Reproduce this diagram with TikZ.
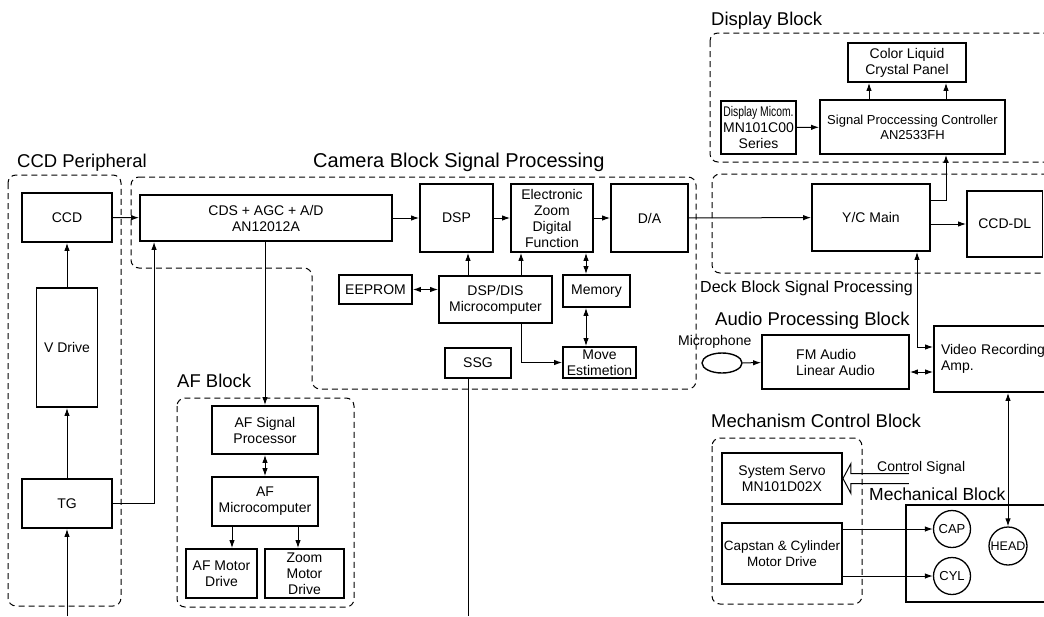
\documentclass[tikz,border=0pt]{standalone}
\usepackage{fontspec}
\setmainfont{Liberation Sans}
\usetikzlibrary{arrows.meta,shapes.geometric}

\begin{document}
\begin{tikzpicture}[x=1pt,y=-1pt,
  box/.style={draw,line width=1.9pt,inner sep=1pt,align=center,font=\fontsize{14}{16}\selectfont},
  grp/.style={draw,line width=1pt,dash pattern=on 6pt off 4pt,rounded corners=8pt},
  lbl/.style={anchor=base west,inner sep=0pt,font=\fontsize{18.5}{20}\selectfont},
  rotor/.style={draw,circle,line width=1.3pt,inner sep=0pt,minimum size=37pt,font=\fontsize{13}{14}\selectfont},
  wire/.style={line width=1pt},
  >={Latex[length=8pt,width=5.5pt]}]

\useasboundingbox (0,0) rectangle (1044,616);
\clip (0,0) rectangle (1044,616);

% CCD Peripheral
\draw[grp] (8,175) rectangle (121,606);
\node[lbl] (tccd) at (17,167) {CCD Peripheral};
\node[box,minimum width=90pt,minimum height=49pt] (ccd) at (67,217.5) {CCD};
\node[box,minimum width=61pt,minimum height=119pt] (vd) at (67,347.5) {V Drive};
\node[box,minimum width=90pt,minimum height=49pt] (tg) at (67,503.5) {TG};
\coordinate (tgin) at (67,616);

\draw[wire,->] (tgin) -- (tg);
\draw[wire,->] (tg) -- (vd);
\draw[wire,->] (vd) -- (ccd);

% Camera Block Signal Processing
\draw[grp] (131,177) -- (696,177) -- (696,389) -- (312,389) -- (312,268) -- (131,268) -- cycle;
\node[lbl,font=\fontsize{20}{22}\selectfont] (tcam) at (313,167) {Camera Block Signal Processing};
\node[box,minimum width=252pt,minimum height=46pt] (cds) at (266,218) {CDS + AGC + A/D\\AN12012A};
\node[box,minimum width=73pt,minimum height=68pt] (dsp) at (456.5,218) {DSP};
\node[box,minimum width=82pt,minimum height=68pt] (ez) at (552,218) {Electronic\\Zoom\\Digital\\Function};
\node[box,minimum width=77pt,minimum height=68pt] (da) at (649.5,218) {D/A};
\node[box,minimum width=73pt,minimum height=29pt] (eeprom) at (375.5,289.5) {EEPROM};
\node[box,minimum width=113pt,minimum height=47pt] (dis) at (495.5,299.5) {DSP/DIS\\Microcomputer};
\node[box,minimum width=67pt,minimum height=32pt] (mem) at (596.5,291) {Memory};
\node[box,minimum width=73pt,minimum height=31pt] (move) at (599.5,362.5) {Move\\Estimetion};
\node[box,minimum width=66pt,minimum height=30pt] (ssg) at (478,363) {SSG};
\coordinate (ssgout) at (468,616);

\draw[wire,->] (ccd) -- (cds);
\draw[wire,->] (tg.east) -| ([xshift=15pt]cds.south west);
\draw[wire,->] (cds) -- (dsp);
\draw[wire,->] (dsp) -- (ez);
\draw[wire,->] (ez) -- (da);
\draw[wire,<->] (eeprom.east) -- (eeprom.east -| dis.west);
\draw[wire,->] ([xshift=-27.5pt]dis.north) -- ([xshift=-27.5pt]dis.north |- dsp.south);
\draw[wire,->] ([xshift=25.5pt]dis.north) -- ([xshift=25.5pt]dis.north |- ez.south);
\draw[wire,<->] ([xshift=34pt]ez.south) -- ([xshift=34pt]ez.south |- mem.north);
\draw[wire,<->] ([xshift=34pt]ez.south |- mem.south) -- ([xshift=34pt]ez.south |- move.north);
\draw[wire,->] ([xshift=25.5pt]dis.south) |- (move.west);
\draw[wire] (ssg.south -| ssgout) -- (ssgout);

% AF Block
\draw[grp] (177,398) rectangle (354,607);
\node[lbl] (taf) at (177,387) {AF Block};
\node[box,minimum width=106pt,minimum height=48pt] (afsp) at (265,430) {AF Signal\\Processor};
\node[box,minimum width=106pt,minimum height=49pt] (afmc) at (265,501.5) {AF\\Microcomputer};
\node[box,minimum width=71pt,minimum height=49pt] (afmd) at (221.5,573.5) {AF Motor\\Drive};
\node[box,minimum width=79pt,minimum height=49pt] (zmd) at (304.5,573.5) {Zoom\\Motor\\Drive};

\draw[wire,->] (cds.south -| afsp.north) -- (afsp.north);
\draw[wire,<->] (afsp) -- (afmc);
\draw[wire,->] ([xshift=-33pt]afmc.south) -- ([xshift=-33pt]afmc.south |- afmd.north);
\draw[wire,->] ([xshift=33pt]afmc.south) -- ([xshift=33pt]afmc.south |- zmd.north);

% Display Block
\draw[grp] (710,33) rectangle (1070,162);
\node[lbl] (tdisp) at (711,25) {Display Block};
\node[box,minimum width=118pt,minimum height=39pt] (clcp) at (907,62.5) {Color Liquid\\Crystal Panel};
\node[box,minimum width=75pt,minimum height=53pt] (dmic) at (758.5,127.5) {\scalebox{0.74}[1]{Display Micom.}\\MN101C00\\Series};
\node[box,minimum width=185pt,minimum height=54pt,font=\fontsize{13}{15}\selectfont] (spc) at (912.5,127) {Signal Proccessing Controller\\AN2533FH};

\draw[wire,->] (dmic) -- (spc);
\draw[wire,->] ([xshift=-43.5pt]spc.north) -- ([xshift=-43.5pt]spc.north |- clcp.south);
\draw[wire,->] ([xshift=33.5pt]spc.north) -- ([xshift=33.5pt]spc.north |- clcp.south);

% Deck Block Signal Processing
\draw[grp] (712,174) rectangle (1070,273);
\node[lbl,font=\fontsize{16}{18}\selectfont] (tdeck) at (700,292) {Deck Block Signal Processing};
\node[box,minimum width=118pt,minimum height=67pt] (yc) at (871,217.5) {Y/C Main};
\node[box,minimum width=75.5pt,minimum height=66pt] (ccddl) at (1004.75,224) {CCD-DL};

\draw[wire,->] (da) -- (yc);
\draw[wire,->] ([yshift=17.5pt]yc.east) -| ([xshift=33.5pt]spc.south);
\draw[wire,->] (yc.east |- ccddl) -- (ccddl);

% Audio Processing Block
\node[lbl] (taud) at (715,325) {Audio Processing Block};
\node[lbl,font=\fontsize{14}{16}\selectfont] (tmic) at (678,345) {Microphone};
\node[draw,ellipse,line width=1.4pt,minimum width=40pt,minimum height=20pt] (mic) at (722,363) {};
\node[box,align=left,minimum width=147pt,minimum height=54pt] (fm) at (835.5,362) {FM Audio\\Linear Audio};
\node[box,text width=110pt,align=left,inner xsep=7pt,minimum height=66pt] (vra) at (996,359) {Video Recording\\Amp.};

\draw[wire,->] (mic) -- (fm);
\draw[wire,<->] ([xshift=46pt]yc.south) |- ([yshift=12pt]vra.west);
\draw[wire,<->] ([yshift=-10pt]fm.east) -- ([yshift=-10pt]fm.east -| vra.west);

% Mechanism Control Block
\draw[grp] (712,438) rectangle (862,604);
\node[lbl] (tmcb) at (711,427) {Mechanism Control Block};
\node[box,minimum width=120pt,minimum height=51pt] (sservo) at (782,478.5) {System Servo\\MN101D02X};
\node[box,minimum width=120pt,minimum height=61pt,inner sep=0pt,font=\fontsize{13.5}{16}\selectfont] (capm) at (782,553.5) {Capstan \& Cylinder\\Motor Drive};
\node[lbl,font=\fontsize{14}{16}\selectfont] (tctl) at (877,471) {Control Signal};

\draw[wire] (sservo.east) ++(66,-5) -- ++(-58,0) -- ++(0,-10) -- (sservo.east)
  -- ++(8,15) -- ++(0,-10) -- ++(58,0);

% Mechanical Block
\node[lbl,font=\fontsize{17.5}{19}\selectfont] (tmech) at (869,500) {Mechanical Block};
\node[draw,line width=1.9pt,minimum width=154pt,minimum height=97pt] (mech) at (983,553.5) {};
\node[rotor] (cap) at (952,529) {CAP};
\node[rotor] (cyl) at (952,576) {CYL};
\node[rotor,minimum size=38pt,font=\fontsize{12.5}{14}\selectfont] (head) at (1008,546) {HEAD};

\draw[wire,->] (capm.east |- cap) -- (cap);
\draw[wire,->] (capm.east |- cyl) -- (cyl);
\draw[wire,<->] (vra.south -| head) -- (head);

\end{tikzpicture}
\end{document}
